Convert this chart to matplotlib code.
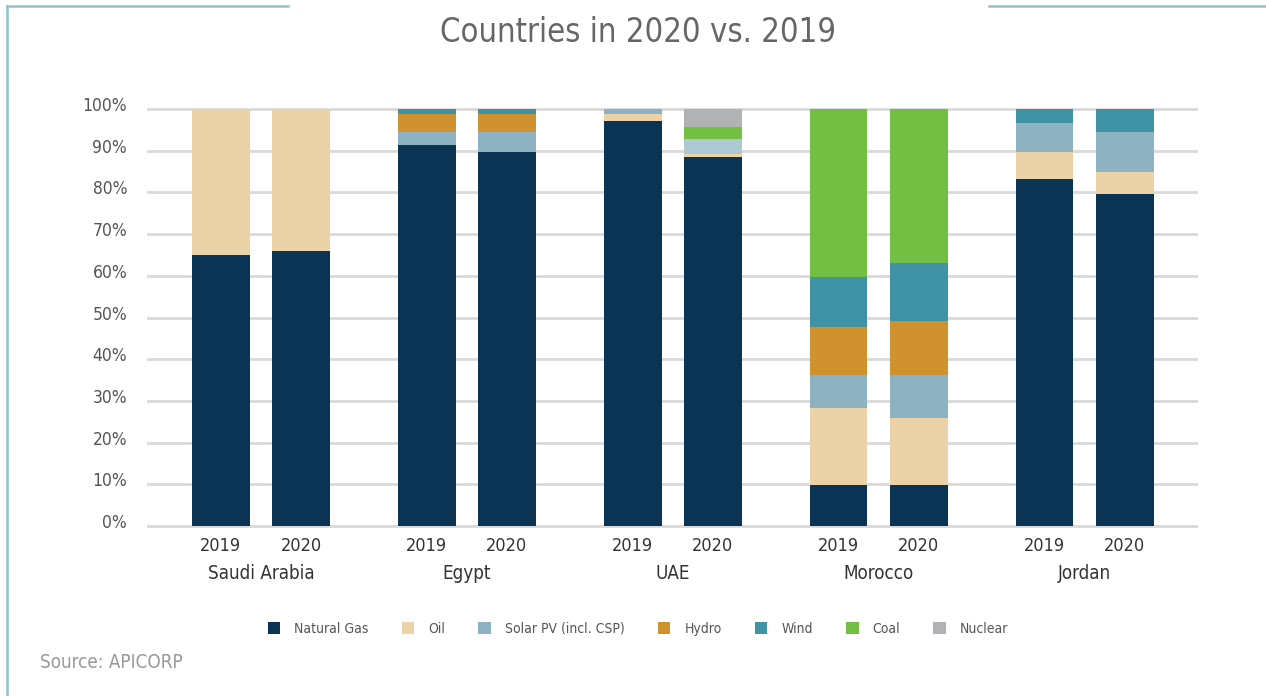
import matplotlib
matplotlib.use("Agg")
import matplotlib.pyplot as plt
from matplotlib.patches import Patch
from matplotlib.lines import Line2D
from matplotlib.transforms import ScaledTranslation
import numpy as np

plt.rcParams['font.family'] = ['DejaVu Sans']
plt.rcParams['font.stretch'] = 'condensed'

countries = ["Saudi Arabia", "Egypt", "UAE", "Morocco", "Jordan"]
years = ["2019", "2020"]
sources = ["Natural Gas", "Oil", "Solar PV (incl. CSP)", "Hydro", "Wind", "Coal", "Nuclear"]

# order of bars: SA19, SA20, EG19, EG20, UAE19, UAE20, MA19, MA20, JO19, JO20
natural_gas = [65.0, 66.0, 91.4, 89.6, 97.2, 88.6, 9.8, 9.8, 83.2, 79.6]
oil         = [35.0, 34.0, 0.0, 0.0, 1.5, 0.6, 18.5, 16.1, 6.5, 5.3]
solar       = [0.0, 0.0, 3.1, 4.9, 1.3, 3.5, 7.9, 10.3, 7.0, 9.6]
hydro       = [0.0, 0.0, 4.2, 4.2, 0.0, 0.0, 11.5, 13.0, 0.0, 0.0]
wind        = [0.0, 0.0, 1.3, 1.3, 0.0, 0.0, 12.0, 13.9, 3.3, 5.5]
coal        = [0.0, 0.0, 0.0, 0.0, 0.0, 2.9, 40.3, 36.9, 0.0, 0.0]
nuclear     = [0.0, 0.0, 0.0, 0.0, 0.0, 4.4, 0.0, 0.0, 0.0, 0.0]

series = [natural_gas, oil, solar, hydro, wind, coal, nuclear]
colors = ["#0B3353", "#EBD2A9", "#8DB3C3", "#CF922F", "#3F93A4", "#72BF44", "#B1B2B4"]

fig = plt.figure(figsize=(12.66, 6.96), dpi=100)
ax = fig.add_axes([148/1266, 1-526/696, (1196-148)/1266, (526-109)/696])

group_gap = 2.57
pos = []
for g in range(len(countries)):
    for j in range(len(years)):
        pos.append(g*group_gap + j)
pos = np.array(pos)

bottom = np.zeros(len(pos))
for vals, col in zip(series, colors):
    v = np.array(vals)
    cols = [col]*len(pos)
    if col == "#8DB3C3":
        cols[5] = "#AFC9D3"
    ax.bar(pos, v, bottom=bottom, width=0.72, color=cols, zorder=3, linewidth=0)
    bottom += v

ax.set_xlim(-0.91, pos[-1] + 0.89)
ax.set_ylim(0, 100)
ax.set_yticks(np.arange(0, 101, 10))
ax.set_yticklabels([f"{t}%" for t in range(0, 101, 10)], fontsize=12.5, color="#555555")
ax.yaxis.grid(True, color="#D9D9D9", linewidth=2, zorder=0)
for gl in ax.yaxis.get_gridlines():
    gl.set_clip_on(False)
ax.set_axisbelow(True)
ax.tick_params(axis='y', length=0, pad=15)
ax.tick_params(axis='x', length=0, pad=8)
offset = ScaledTranslation(0, 5/100, fig.dpi_scale_trans)
for lab in ax.get_yticklabels():
    lab.set_transform(lab.get_transform() + offset)
ax.set_xticks(pos)
ax.set_xticklabels(years*len(countries), fontsize=13, color="#333333")
for s in ax.spines.values():
    s.set_visible(False)

for g, c in enumerate(countries):
    xc = g*group_gap + 0.5
    ax.text(xc, -11.4, c, ha="center", va="center", fontsize=13.5, color="#333333",
            transform=ax.transData, clip_on=False)

fig.text(638/1266, 1-32/696, "Countries in 2020 vs. 2019", ha="center", va="center",
         fontsize=23.5, color="#666666")

handles = [Patch(facecolor=c, edgecolor="none") for c in colors]
leg = fig.legend(handles, sources, loc="center", bbox_to_anchor=(638/1266, 1-629/696),
                 ncol=7, frameon=False, fontsize=10, handlelength=0.9, handleheight=0.9,
                 columnspacing=2.4, handletextpad=1.0, labelcolor="#555555")

fig.text(40/1266, 1-663/696, "Source: APICORP", ha="left", va="center",
         fontsize=13.5, color="#999999")

fc = "#8EC3CC"
fig.add_artist(Line2D([7/1266, 7/1266], [0, 1-6/696], color=fc, linewidth=1.8, transform=fig.transFigure))
fig.add_artist(Line2D([7/1266, 288/1266], [1-6/696, 1-6/696], color=fc, linewidth=1.8, transform=fig.transFigure))
fig.add_artist(Line2D([989/1266, 1], [1-6/696, 1-6/696], color=fc, linewidth=1.8, transform=fig.transFigure))

fig.savefig("out.png", dpi=100, facecolor="white")
